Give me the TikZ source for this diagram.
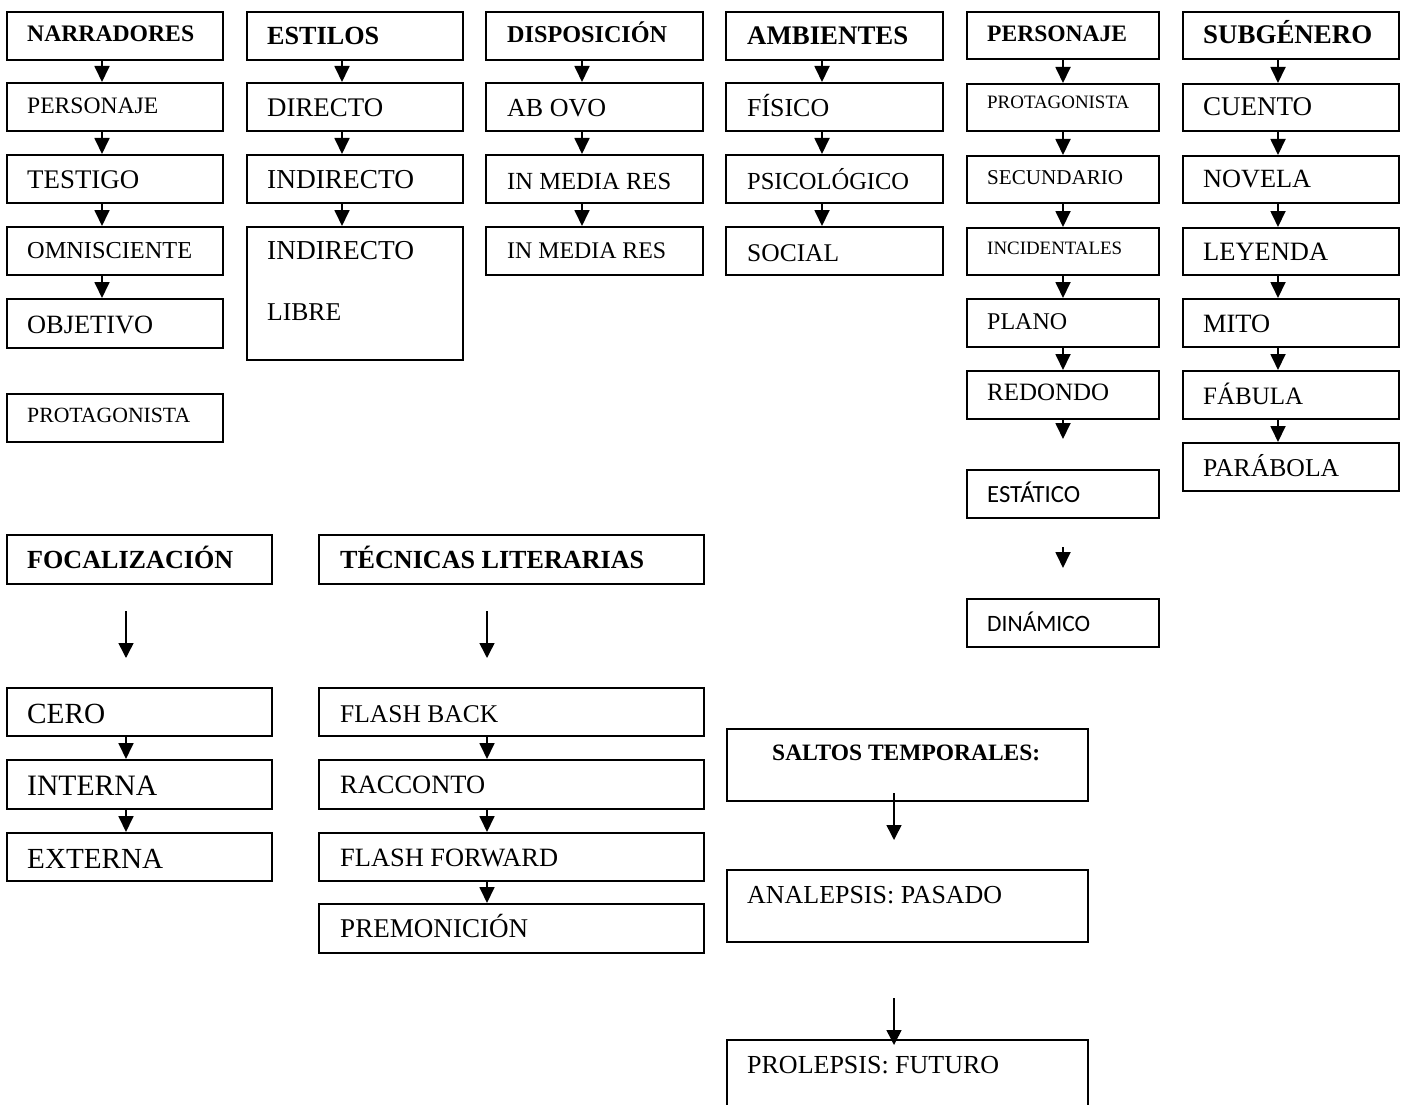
\documentclass[tikz,border=0pt]{standalone}
\usepackage{fontspec}
\setmainfont{Liberation Serif}
\newfontfamily\calfont{Carlito}
\usepackage{graphicx}
\usetikzlibrary{arrows.meta,calc}
\newcommand\fw[2]{\resizebox{#1pt}{!}{#2}}
\newcommand\bx[5]{\node[box, minimum width=#4pt, minimum height=#5pt] (#1) at (#2,#3) {};}
\newcommand\lb[5]{\node[lbl] (#1) at (#2,#3) {\fw{#4}{#5}};}
\begin{document}
\begin{tikzpicture}[x=1pt,y=-1pt,
  box/.style={draw, line width=1.8pt, rectangle, inner sep=0pt, anchor=north west},
  lbl/.style={anchor=base west, inner sep=0pt, font=\fontsize{20}{24}\selectfont},
  arr/.style={line width=1.8pt, -{Triangle[width=15pt,length=16pt]}},
  thinarr/.style={line width=1.5pt, -{Triangle[width=15pt,length=15pt]}},
]
\useasboundingbox (0,0) rectangle (1403,1105);
% column arrow x positions
\coordinate (ax1) at (102,0);
\coordinate (ax2) at (342,0);
\coordinate (ax3) at (582,0);
\coordinate (ax4) at (822,0);
\coordinate (ax5) at (1063,0);
\coordinate (ax6) at (1278,0);
\coordinate (axF) at (126,0);
\coordinate (axT) at (487,0);
\coordinate (axS) at (894,0);

% ---- Column 1: NARRADORES
\bx{a0}{6}{11}{216}{48}
\bx{a1}{6}{82}{216}{48}
\bx{a2}{6}{154}{216}{48}
\bx{a3}{6}{226}{216}{48}
\bx{a4}{6}{298}{216}{49}
\bx{a5}{6}{393}{216}{48}
\lb{ta0}{27}{42}{167}{\bfseries NARRADORES}
\lb{ta1}{27}{114}{131}{PERSONAJE}
\lb{ta2}{27}{189}{112}{TESTIGO}
\lb{ta3}{27}{258}{165}{OMNISCIENTE}
\lb{ta4}{27}{333}{126}{OBJETIVO}
\lb{ta5}{27}{422}{163}{PROTAGONISTA}
\foreach \i/\j in {a0/a1,a1/a2,a2/a3,a3/a4}
  \draw[arr] (\i.south -| ax1) -- (\j.north -| ax1);

% ---- Column 2: ESTILOS
\bx{b0}{246}{11}{216}{48}
\bx{b1}{246}{82}{216}{48}
\bx{b2}{246}{154}{216}{48}
\bx{b3}{246}{226}{216}{133}
\lb{tb0}{267}{45}{112}{\bfseries ESTILOS}
\lb{tb1}{267}{117}{116}{DIRECTO}
\lb{tb2}{267}{189}{147}{INDIRECTO}
\lb{tb3}{267}{259}{147}{INDIRECTO}
\lb{tb4}{267}{320}{74}{LIBRE}
\foreach \i/\j in {b0/b1,b1/b2,b2/b3}
  \draw[arr] (\i.south -| ax2) -- (\j.north -| ax2);

% ---- Column 3: DISPOSICION
\bx{c0}{485}{11}{217}{48}
\bx{c1}{485}{82}{217}{48}
\bx{c2}{485}{154}{217}{48}
\bx{c3}{485}{226}{217}{48}
\lb{tc0}{507}{43}{160}{\bfseries DISPOSICIÓN}
\lb{tc1}{507}{117}{99}{AB OVO}
\lb{tc2}{507}{189}{164}{IN MEDIA RES}
\lb{tc3}{507}{258}{159}{IN MEDIA RES}
\foreach \i/\j in {c0/c1,c1/c2,c2/c3}
  \draw[arr] (\i.south -| ax3) -- (\j.north -| ax3);

% ---- Column 4: AMBIENTES
\bx{d0}{725}{11}{217}{48}
\bx{d1}{725}{82}{217}{48}
\bx{d2}{725}{154}{217}{48}
\bx{d3}{725}{226}{217}{48}
\lb{td0}{747}{45}{161}{\bfseries AMBIENTES}
\lb{td1}{747}{117}{82}{FÍSICO}
\lb{td2}{747}{189}{162}{PSICOLÓGICO}
\lb{td3}{747}{261}{92}{SOCIAL}
\foreach \i/\j in {d0/d1,d1/d2,d2/d3}
  \draw[arr] (\i.south -| ax4) -- (\j.north -| ax4);

% ---- Column 5: PERSONAJE
\bx{e0}{966}{11}{192}{47}
\bx{e1}{966}{83}{192}{47}
\bx{e2}{966}{155}{192}{47}
\bx{e3}{966}{227}{192}{47}
\bx{e4}{966}{298}{192}{48}
\bx{e5}{966}{370}{192}{48}
\bx{e6}{966}{469}{192}{48}
\bx{e7}{966}{598}{192}{48}
\lb{te0}{987}{42}{140}{\bfseries PERSONAJE}
\lb{te1}{987}{109}{142}{PROTAGONISTA}
\lb{te2}{987}{184}{136}{SECUNDARIO}
\lb{te3}{987}{254}{135}{INCIDENTALES}
\lb{te4}{987}{329}{80}{PLANO}
\lb{te5}{987}{400}{122}{REDONDO}
\lb{te6}{987}{502}{93}{\calfont ESTÁTICO}
\lb{te7}{987}{631}{103}{\calfont DINÁMICO}
\foreach \i/\j in {e0/e1,e1/e2,e2/e3,e3/e4,e4/e5}
  \draw[arr] (\i.south -| ax5) -- (\j.north -| ax5);
\coordinate (e5end) at (1063,439);
\draw[arr] (e5.south -| ax5) -- (e5end);
\coordinate (e6s) at (1063,547);
\coordinate (e6e) at (1063,568);
\draw[arr] (e6s) -- (e6e);

% ---- Column 6: SUBGENERO
\bx{f0}{1182}{11}{216}{47}
\bx{f1}{1182}{83}{216}{47}
\bx{f2}{1182}{155}{216}{47}
\bx{f3}{1182}{227}{216}{47}
\bx{f4}{1182}{298}{216}{48}
\bx{f5}{1182}{370}{216}{48}
\bx{f6}{1182}{442}{216}{48}
\lb{tf0}{1203}{44}{169}{\bfseries SUBGÉNERO}
\lb{tf1}{1203}{116}{109}{CUENTO}
\lb{tf2}{1203}{188}{108}{NOVELA}
\lb{tf3}{1203}{260}{125}{LEYENDA}
\lb{tf4}{1203}{332}{67}{MITO}
\lb{tf5}{1203}{404}{100}{FÁBULA}
\lb{tf6}{1203}{476}{136}{PARÁBOLA}
\foreach \i/\j in {f0/f1,f1/f2,f2/f3,f3/f4,f4/f5,f5/f6}
  \draw[arr] (\i.south -| ax6) -- (\j.north -| ax6);

% ---- FOCALIZACION
\bx{g0}{6}{534}{265}{49}
\bx{g1}{6}{687}{265}{48}
\bx{g2}{6}{759}{265}{49}
\bx{g3}{6}{832}{265}{48}
\lb{tg0}{27}{568}{206}{\bfseries FOCALIZACIÓN}
\lb{tg1}{27}{723}{78}{CERO}
\lb{tg2}{27}{795}{130}{INTERNA}
\lb{tg3}{27}{868}{136}{EXTERNA}
\coordinate (gs) at (126,611);
\coordinate (ge) at (126,658);
\draw[thinarr] (gs) -- (ge);
\foreach \i/\j in {g1/g2,g2/g3}
  \draw[arr] (\i.south -| axF) -- (\j.north -| axF);

% ---- TECNICAS LITERARIAS
\bx{h0}{318}{534}{385}{49}
\bx{h1}{318}{687}{385}{48}
\bx{h2}{318}{759}{385}{49}
\bx{h3}{318}{832}{385}{48}
\bx{h4}{318}{903}{385}{49}
\lb{th0}{340}{568}{304}{\bfseries TÉCNICAS LITERARIAS}
\lb{th1}{340}{722}{158}{FLASH BACK}
\lb{th2}{340}{793}{145}{RACCONTO}
\lb{th3}{340}{866}{218}{FLASH FORWARD}
\lb{th4}{340}{937}{188}{PREMONICIÓN}
\coordinate (hs) at (487,611);
\coordinate (he) at (487,658);
\draw[thinarr] (hs) -- (he);
\foreach \i/\j in {h1/h2,h2/h3,h3/h4}
  \draw[arr] (\i.south -| axT) -- (\j.north -| axT);

% ---- SALTOS TEMPORALES
\bx{s0}{726}{728}{361}{72}
\bx{s1}{726}{869}{361}{72}
\bx{s2}{726}{1039}{361}{80}
\lb{ts0}{772}{760}{268}{\bfseries SALTOS TEMPORALES:}
\lb{ts1}{747}{903}{255}{ANALEPSIS: PASADO}
\lb{ts2}{747}{1073}{252}{PROLEPSIS: FUTURO}
\coordinate (ss) at (894,793);
\coordinate (se) at (894,840);
\draw[thinarr] (ss) -- (se);
\coordinate (s1s) at (894,998);
\coordinate (s1e) at (894,1045);
\draw[thinarr] (s1s) -- (s1e);
\end{tikzpicture}
\end{document}
